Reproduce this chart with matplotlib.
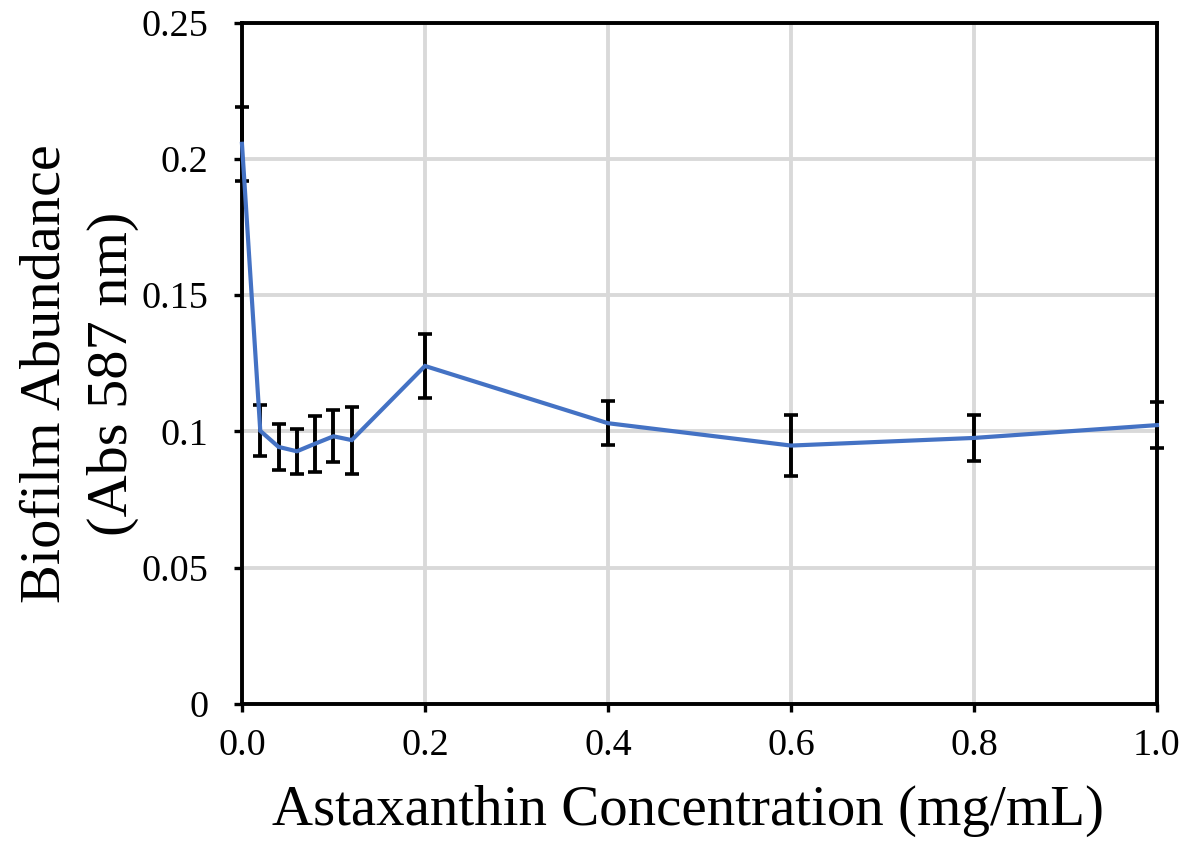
import matplotlib
matplotlib.use("Agg")
import matplotlib.pyplot as plt

conc = [0.0, 0.02, 0.04, 0.06, 0.08, 0.10, 0.12, 0.2, 0.4, 0.6, 0.8, 1.0]
abundance = [0.2055, 0.1002, 0.0943, 0.0927, 0.0955, 0.0982, 0.0968, 0.1240, 0.1030, 0.0948, 0.0976, 0.1023]
err = [0.0135, 0.0093, 0.0083, 0.0082, 0.0103, 0.0095, 0.0123, 0.0118, 0.0080, 0.0112, 0.0085, 0.0083]

xticks = [0.0, 0.2, 0.4, 0.6, 0.8, 1.0]
xtick_labels = ["0.0", "0.2", "0.4", "0.6", "0.8", "1.0"]
yticks = [0, 0.05, 0.1, 0.15, 0.2, 0.25]
ytick_labels = ["0", "0.05", "0.1", "0.15", "0.2", "0.25"]

plt.rcParams['font.family'] = ['Liberation Serif', 'DejaVu Serif']

fig = plt.figure(figsize=(11.92, 8.5), dpi=100)
ax = fig.add_axes([0.2030, 0.1718, 0.9706 - 0.2030, 0.9735 - 0.1718])

ax.errorbar(conc, abundance, yerr=err, fmt='none', ecolor='black',
            elinewidth=2.8, capsize=5, capthick=2.6, zorder=3, clip_on=False)
ax.plot(conc, abundance, color='#4472C4', linewidth=3.0, zorder=4,
        solid_joinstyle='miter', clip_on=False)

ax.set_xlim(0, 1.0)
ax.set_ylim(0, 0.25)
ax.set_xticks(xticks)
ax.set_xticklabels(xtick_labels)
ax.set_yticks(yticks)
ax.set_yticklabels(ytick_labels)

ax.set_axisbelow(True)
ax.grid(True, color='#d9d9d9', linewidth=2.8)

for s in ax.spines.values():
    s.set_linewidth(2.8)
    s.set_color('black')
    s.set_zorder(2.5)

ax.tick_params(axis='both', direction='out', length=6, width=2.4,
               labelsize=27.5, colors='black')
ax.tick_params(axis='x', pad=12)
ax.tick_params(axis='y', pad=18)

ax.set_xlabel("Astaxanthin Concentration (mg/mL)", fontsize=41)
ax.xaxis.set_label_coords(0.487, -0.118)
ax.set_ylabel("Biofilm Abundance\n(Abs 587 nm)", fontsize=42, linespacing=1.4)
ax.yaxis.set_label_coords(-0.112, 0.485)

fig.savefig("out.png", dpi=100)
